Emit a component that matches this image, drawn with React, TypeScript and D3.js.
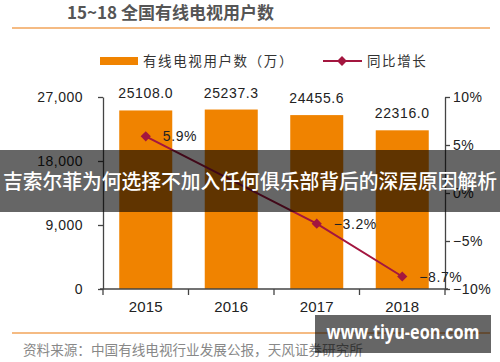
import React, { useRef, useEffect } from 'react';
import { select, scaleLinear, scaleBand, axisLeft, axisRight, axisBottom, line, symbol, symbolSquare, format } from 'd3';

// data
const years = ['2015', '2016', '2017', '2018'];
const subscribers = [25108.0, 25237.3, 24455.6, 22316.0];
const growthYears = ['2015', '2017', '2018'];
const growthRate = [5.9, -3.2, -8.7];
const leftTicks = [0, 9000, 18000, 27000];
const rightTicks = [-10, -5, 0, 5, 10];

const W = 500;
const H = 362;
const ORANGE = '#f08300';
const LINE = '#a3163f';
const AXIS = '#444';
const NUM_FONT = '"Liberation Sans", Arial, sans-serif';
const CJK_FONT = '"Noto Sans CJK SC", sans-serif';

const App = () => {
  const svgRef = useRef<SVGSVGElement>(null);

  useEffect(() => {
    const svg = select(svgRef.current);
    const left = 103, right = 445, top = 97, bottom = 289;

    const xScale = scaleBand().domain(years).range([left, right]).paddingInner(0.38).paddingOuter(0.19);
    const yLeft = scaleLinear().domain([0, 27000]).range([bottom, top]);
    const yRight = scaleLinear().domain([-10, 10]).range([bottom, top]);
    const center = (d: string) => (xScale(d) ?? 0) + xScale.bandwidth() / 2;

    // bars
    svg.select('.bars')
      .selectAll('rect')
      .data(subscribers)
      .join('rect')
      .attr('x', (d, i) => xScale(years[i]) ?? 0)
      .attr('y', (d) => yLeft(d))
      .attr('width', xScale.bandwidth())
      .attr('height', (d) => bottom - yLeft(d))
      .attr('fill', ORANGE);

    svg.select('.barLabels')
      .selectAll('text')
      .data(subscribers)
      .join('text')
      .attr('x', (d, i) => center(years[i]))
      .attr('y', (d) => yLeft(d) - 12)
      .attr('text-anchor', 'middle')
      .attr('font-family', NUM_FONT)
      .attr('font-size', 14)
      .attr('letter-spacing', 0.6)
      .attr('fill', '#222')
      .text((d) => d.toFixed(1));

    // axes
    const yAxisL = axisLeft(yLeft).tickValues(leftTicks).tickFormat(format(',')).tickSize(5).tickSizeOuter(0).tickPadding(15);
    svg.select<SVGGElement>('.yAxisL').attr('transform', `translate(${left},0)`).call(yAxisL);

    const yAxisR = axisRight(yRight).tickValues(rightTicks)
      .tickFormat((d) => (d === 0 ? '0%' : `${d}%`.replace('-', '\u2212')))
      .tickSize(5).tickSizeOuter(0).tickPadding(3);
    svg.select<SVGGElement>('.yAxisR').attr('transform', `translate(${right},0)`).call(yAxisR);

    const xAxis = axisBottom(xScale).tickSize(0).tickPadding(12);
    svg.select<SVGGElement>('.xAxis').attr('transform', `translate(0,${bottom})`).call(xAxis);
    svg.select('.xAxis .domain').attr('d', `M${left - 3},0H${right + 3}`);
    svg.select('.xAxis')
      .selectAll('line.bound')
      .data([0, 1, 2, 3, 4])
      .join('line')
      .attr('class', 'bound')
      .attr('x1', (i) => left + i * xScale.step())
      .attr('x2', (i) => left + i * xScale.step())
      .attr('y1', 0)
      .attr('y2', 6);

    svg.selectAll('.axis path, .axis line').attr('stroke', AXIS).attr('stroke-width', 1.3);
    svg.selectAll('.axis text')
      .attr('font-family', NUM_FONT)
      .attr('font-size', 14)
      .attr('letter-spacing', 0.5)
      .attr('fill', '#222');
    svg.selectAll('.xAxis text').attr('font-size', 15).attr('font-weight', 500).attr('letter-spacing', 0.2);

    // growth line
    const pts = growthYears.map((y, i) => [center(y), yRight(growthRate[i])] as [number, number]);
    svg.select('.growth path')
      .attr('d', line()(pts))
      .attr('fill', 'none')
      .attr('stroke', LINE)
      .attr('stroke-width', 2);
    svg.select('.growth')
      .selectAll('path.marker')
      .data(pts)
      .join('path')
      .attr('class', 'marker')
      .attr('d', symbol(symbolSquare, 52)())
      .attr('transform', (d) => `translate(${d[0]},${d[1]}) rotate(45)`)
      .attr('fill', LINE);
    svg.select('.growth')
      .selectAll('text')
      .data(growthRate)
      .join('text')
      .attr('x', (d, i) => pts[i][0] + 17)
      .attr('y', (d, i) => pts[i][1] + 5)
      .attr('font-family', NUM_FONT)
      .attr('font-size', 14)
      .attr('letter-spacing', 0.6)
      .attr('fill', '#222')
      .text((d) => `${d.toFixed(1)}%`.replace('-', '\u2212'));
  }, []);

  return (
    <svg ref={svgRef} width={W} height={H} style={{ position: 'absolute', left: 0, top: 0, background: '#fff' }}>
      <text x={67} y={19} fontFamily={CJK_FONT} fontSize={17} fontWeight={700} fill="#555">15~18 全国有线电视用户数</text>
      <line x1={12} x2={490} y1={28} y2={28} stroke="#f2a55a" strokeWidth={1.5} />

      <rect x={100} y={57} width={38} height={8} fill={ORANGE} />
      <text x={143} y={66} fontFamily={CJK_FONT} fontSize={13.5} letterSpacing={1.6} fill="#333">有线电视用户数（万）</text>
      <line x1={323} x2={362} y1={61} y2={61} stroke={LINE} strokeWidth={2} />
      <rect x={338.5} y={57.5} width={7} height={7} fill={LINE} transform="rotate(45 342 61)" />
      <text x={367} y={66} fontFamily={CJK_FONT} fontSize={13.5} letterSpacing={1.6} fill="#333">同比增长</text>

      <g className="bars" />
      <g className="barLabels" />
      <g className="axis yAxisL" />
      <g className="axis yAxisR" />
      <g className="axis xAxis" />
      <g className="growth"><path /></g>

      <line x1={12} x2={490} y1={333} y2={333} stroke="#f2a55a" strokeWidth={1.5} />
      <text x={23} y={355} fontFamily={CJK_FONT} fontSize={13.6} fill="#888">资料来源：中国有线电视行业发展公报，天风证券研究所</text>

      <rect x={0} y={150} width={500} height={62} fill="rgba(0,0,0,0.6)" />
      <text x={250} y={189} textAnchor="middle" fontFamily={CJK_FONT} fontSize={20} fontWeight={500} fill="#fff"
        textLength={494} lengthAdjust="spacingAndGlyphs">吉索尔菲为何选择不加入任何俱乐部背后的深层原因解析</text>

      <rect x={315} y={315} width={176} height={38} fill="rgba(0,0,0,0.6)" />
      <text x={403} y={339} textAnchor="middle" fontFamily='"Open Sans", sans-serif' fontSize={19} fontWeight={700} fill="#fff"
        textLength={153} lengthAdjust="spacingAndGlyphs">www.tiyu-eon.com</text>
    </svg>
  );
};

export default App;
